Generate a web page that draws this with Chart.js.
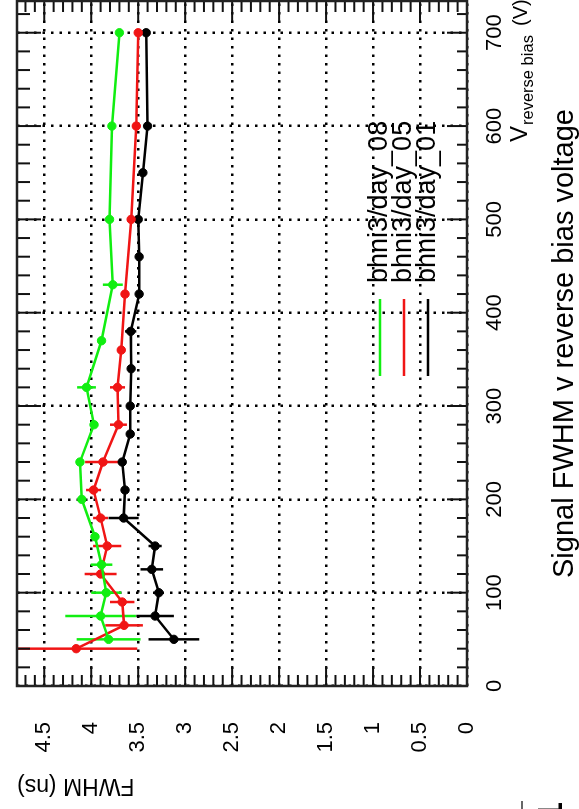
<!DOCTYPE html>
<html><head><meta charset="utf-8">
<script src="https://cdn.jsdelivr.net/npm/chart.js@4.4.1/dist/chart.umd.min.js"></script>
<style>
html,body{margin:0;padding:0;background:#fff;overflow:hidden;width:579px;height:809px;}
#wrap{position:absolute;left:0;top:0;width:820px;height:579px;transform-origin:0 0;transform:translateY(809px) rotate(-90deg);}
canvas{display:block}
</style></head><body>
<div id="wrap"><canvas id="c" width="820" height="579" style="width:820px;height:579px"></canvas></div>
<script>
// ---- data ----
const seriesLabels = ['bhni3/day_08', 'bhni3/day_05', 'bhni3/day_01'];
const seriesColors = ['#11ee11', '#f01515', '#000000'];

const voltsDay08 = [50, 75, 100, 130, 160, 200, 240, 280, 320, 370, 430, 500, 600, 700];
const fwhmDay08  = [3.815, 3.90, 3.84, 3.89, 3.96, 4.10, 4.12, 3.97, 4.05, 3.89, 3.77, 3.805, 3.78, 3.70];
const errDay08   = [0.34, 0.376, 0.16, 0.115, 0, 0, 0, 0, 0.10, 0, 0.106, 0, 0, 0];

const voltsDay05 = [40, 65, 90, 120, 150, 180, 210, 240, 280, 320, 360, 420, 500, 600, 700];
const fwhmDay05  = [4.16, 3.65, 3.67, 3.90, 3.83, 3.90, 3.975, 3.875, 3.71, 3.72, 3.68, 3.64, 3.575, 3.52, 3.50];
const errDay05   = [0.65, 0.20, 0.13, 0.17, 0.15, 0.08, 0.08, 0.19, 0.09, 0.08, 0, 0, 0, 0, 0];

const voltsDay01 = [50, 75, 100, 125, 150, 180, 210, 240, 270, 300, 340, 380, 420, 460, 500, 550, 600, 700];
const fwhmDay01  = [3.12, 3.32, 3.28, 3.355, 3.32, 3.655, 3.64, 3.67, 3.585, 3.585, 3.575, 3.58, 3.49, 3.49, 3.50, 3.45, 3.40, 3.415];
const errDay01   = [0.27, 0.20, 0, 0.12, 0.07, 0.16, 0, 0, 0, 0, 0, 0.06, 0, 0, 0, 0, 0, 0];

const voltTicks = [0, 100, 200, 300, 400, 500, 600, 700];
const fwhmTicks = [0, 0.5, 1, 1.5, 2, 2.5, 3, 3.5, 4, 4.5];
const voltRange = [0, 734];
const fwhmRange = [0, 4.79];

const titleText = 'Signal FWHM v reverse bias voltage';
const yTitle = 'FWHM (ns)';
const xTitleMain = 'V', xTitleSub = 'reverse bias', xTitleUnit = '(V)';

// ---- build ----
const FONT = '"Liberation Sans", Arial, Helvetica, sans-serif';
Chart.defaults.font.family = FONT;
Chart.defaults.color = '#000';

const vs = [voltsDay08, voltsDay05, voltsDay01];
const fs = [fwhmDay08, fwhmDay05, fwhmDay01];
const es = [errDay08, errDay05, errDay01];

const datasets = seriesLabels.map((lab, i) => ({
  label: lab,
  data: vs[i].map((v, j) => ({x: v, y: fs[i][j]})),
  errors: es[i],
  borderColor: seriesColors[i],
  backgroundColor: seriesColors[i],
  pointBackgroundColor: seriesColors[i],
  pointBorderColor: seriesColors[i],
  borderWidth: 2.5,
  pointRadius: 4.2,
  pointBorderWidth: 1,
  tension: 0,
  showLine: true,
  fill: false
}));

function line(ctx, x1, y1, x2, y2) { ctx.beginPath(); ctx.moveTo(x1, y1); ctx.lineTo(x2, y2); ctx.stroke(); }

const decor = {
  id: 'decor',
  beforeDatasetsDraw(chart) {
    const {ctx, chartArea: a, scales: {x, y}} = chart;
    ctx.save();
    ctx.beginPath(); ctx.rect(a.left, a.top, a.right - a.left, a.bottom - a.top); ctx.clip();
    ctx.lineWidth = 2.5;
    chart.data.datasets.forEach(ds => {
      ctx.strokeStyle = ds.borderColor;
      ds.errors.forEach((e, j) => {
        if (!e) return;
        const p = ds.data[j];
        const px = x.getPixelForValue(p.x);
        line(ctx, px, y.getPixelForValue(p.y - e), px, y.getPixelForValue(p.y + e));
      });
    });
    ctx.restore();
  },
  afterDraw(chart) {
    const {ctx, chartArea: a, scales: {x, y}} = chart;
    ctx.save();
    // inner ticks
    ctx.strokeStyle = '#111'; ctx.lineWidth = 2;
    for (let v = 0; v <= x.max; v += 20) {
      const px = x.getPixelForValue(v), major = v % 100 === 0;
      line(ctx, px, a.bottom, px, a.bottom - (major ? 20 : 10));
      line(ctx, px, a.top, px, a.top + (major ? 24 : 13));
    }
    for (let k = 0; k / 10 <= y.max; k++) {
      const py = y.getPixelForValue(k / 10), major = k % 5 === 0;
      line(ctx, a.left, py, a.left + (major ? 20 : 11), py);
      line(ctx, a.right, py, a.right - (major ? 20 : 11), py);
    }
    // frame
    ctx.strokeStyle = '#222'; ctx.lineWidth = 2.5;
    ctx.strokeRect(a.left, a.top, a.right - a.left, a.bottom - a.top);
    // legend
    ctx.font = '27px ' + FONT; ctx.textBaseline = 'middle'; ctx.textAlign = 'left';
    chart.data.datasets.forEach((ds, i) => {
      const ry = 380 + i * 24;
      ctx.strokeStyle = ds.borderColor; ctx.lineWidth = 2.5;
      line(ctx, 433, ry, 510, ry);
      ctx.fillStyle = '#000';
      ctx.fillText(ds.label, 526, ry);
    });
    // x-axis title with subscript
    ctx.fillStyle = '#000'; ctx.textBaseline = 'alphabetic';
    ctx.font = '24px ' + FONT;
    ctx.fillText(xTitleMain, 667, 527);
    const w = ctx.measureText(xTitleMain).width;
    ctx.font = '16.5px ' + FONT;
    ctx.fillText(xTitleSub, 667 + w + 1, 533);
    ctx.font = '20px ' + FONT;
    ctx.fillText(xTitleUnit, 783, 527);
    // caption
    ctx.font = '29px ' + FONT; ctx.textAlign = 'center';
    ctx.fillText(titleText, (a.left + a.right) / 2, 573);
    // cut-off glyph at page edge
    ctx.font = 'bold 35px ' + FONT; ctx.textAlign = 'right';
    ctx.fillText('1', 7, 562);
    ctx.strokeStyle = '#000'; ctx.lineWidth = 1.2;
    line(ctx, 0, 522, 8, 522);
    ctx.restore();
  }
};

new Chart(document.getElementById('c'), {
  type: 'line',
  data: {datasets},
  options: {
    responsive: false,
    animation: false,
    devicePixelRatio: 1,
    layout: {padding: {left: 0, top: 17, right: 12, bottom: 0}},
    plugins: {legend: {display: false}, tooltip: {enabled: false}, title: {display: false}},
    scales: {
      x: {
        type: 'linear', position: 'bottom', min: voltRange[0], max: voltRange[1],
        afterBuildTicks: s => { s.ticks = voltTicks.map(v => ({value: v})); },
        afterFit: s => { s.height = 112; s.paddingLeft = 0; s.paddingRight = 0; },
        ticks: {font: {size: 22}, color: '#000', padding: 15, maxRotation: 0, autoSkip: false,
                callback: v => String(v)},
        grid: {color: '#000', lineWidth: 2.5, drawTicks: false},
        border: {display: false, dash: [2.5, 6]}
      },
      y: {
        type: 'linear', position: 'left', min: fwhmRange[0], max: fwhmRange[1],
        afterBuildTicks: s => { s.ticks = fwhmTicks.map(v => ({value: v})); },
        afterFit: s => { s.width = 123; s.paddingTop = 0; s.paddingBottom = 0; },
        ticks: {font: {size: 22}, color: '#000', padding: 36, autoSkip: false,
                callback: v => String(Math.round(v * 10) / 10)},
        grid: {color: '#000', lineWidth: 2.5, drawTicks: false},
        border: {display: false, dash: [2.5, 6]},
        title: {display: true, text: yTitle, align: 'end', font: {size: 23}, color: '#000', padding: {top: 10, bottom: 0}}
      }
    }
  },
  plugins: [decor]
});
</script>
</body></html>
